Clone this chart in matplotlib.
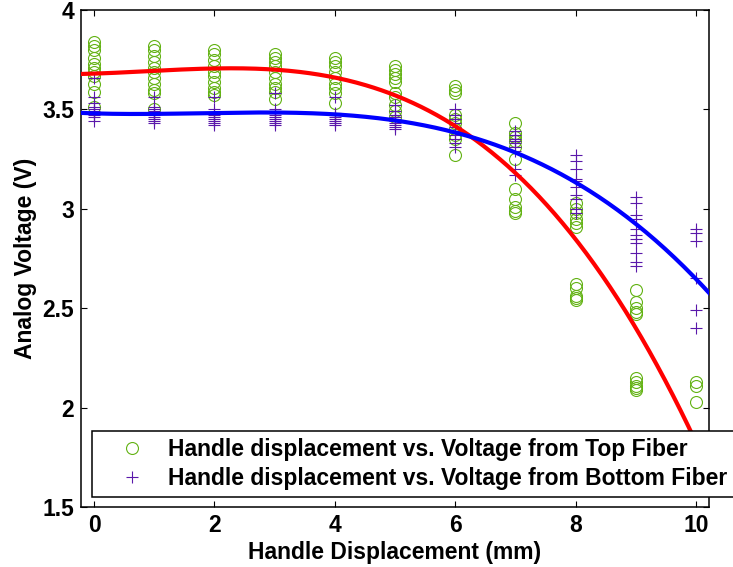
import numpy as np
import matplotlib
matplotlib.use("Agg")
import matplotlib.pyplot as plt

# Handle displacement positions (mm)
displacement = [0, 1, 2, 3, 4, 5, 6, 7, 8, 9, 10]

# Repeated readings from the top fiber (V), one list per displacement
top_fiber = [
    [3.84, 3.82, 3.80, 3.76, 3.73, 3.71, 3.69, 3.67, 3.63, 3.59, 3.51],
    [3.82, 3.80, 3.77, 3.74, 3.71, 3.69, 3.66, 3.63, 3.60, 3.58, 3.50],
    [3.80, 3.78, 3.75, 3.72, 3.69, 3.67, 3.64, 3.61, 3.59, 3.57],
    [3.78, 3.76, 3.74, 3.72, 3.69, 3.66, 3.63, 3.61, 3.59, 3.55],
    [3.76, 3.74, 3.72, 3.69, 3.66, 3.63, 3.61, 3.58, 3.53],
    [3.72, 3.70, 3.68, 3.66, 3.64, 3.58, 3.56, 3.52, 3.49, 3.46],
    [3.62, 3.60, 3.58, 3.47, 3.45, 3.43, 3.40, 3.37, 3.35, 3.27],
    [3.43, 3.38, 3.36, 3.34, 3.31, 3.25, 3.10, 3.05, 3.01, 2.99, 2.98],
    [3.03, 3.00, 2.98, 2.95, 2.93, 2.91, 2.62, 2.60, 2.56, 2.55, 2.54],
    [2.59, 2.53, 2.50, 2.48, 2.47, 2.15, 2.13, 2.11, 2.10, 2.09],
    [2.13, 2.11, 2.03],
]

# Repeated readings from the bottom fiber (V)
bottom_fiber = [
    [3.66, 3.56, 3.53, 3.51, 3.50, 3.49, 3.48, 3.47, 3.46, 3.44],
    [3.56, 3.51, 3.50, 3.49, 3.48, 3.47, 3.46, 3.45, 3.44, 3.43],
    [3.56, 3.50, 3.48, 3.47, 3.46, 3.45, 3.44, 3.43, 3.42],
    [3.58, 3.50, 3.48, 3.47, 3.46, 3.45, 3.44, 3.43, 3.42],
    [3.56, 3.48, 3.47, 3.46, 3.45, 3.44, 3.43, 3.42],
    [3.52, 3.49, 3.47, 3.46, 3.45, 3.44, 3.43, 3.42, 3.41, 3.40],
    [3.50, 3.47, 3.45, 3.43, 3.41, 3.39, 3.37, 3.35, 3.33, 3.31],
    [3.39, 3.37, 3.35, 3.34, 3.33, 3.31, 3.29, 3.20, 3.17],
    [3.27, 3.24, 3.20, 3.15, 3.14, 3.11, 3.07, 3.05, 3.00, 2.98],
    [3.06, 3.03, 2.97, 2.95, 2.90, 2.87, 2.85, 2.83, 2.78, 2.73, 2.71],
    [2.90, 2.88, 2.84, 2.65, 2.49, 2.40],
]

# Cubic trend-line coefficients, highest power first
top_fit_coef = [-0.002643, 0.006906, 0.009739, 3.68]
bottom_fit_coef = [-0.0015704, 0.00831, -0.00936, 3.48]

x_ticks = [0, 2, 4, 6, 8, 10]
y_ticks = [1.5, 2, 2.5, 3, 3.5, 4]
y_tick_labels = ["1.5", "2", "2.5", "3", "3.5", "4"]

legend_labels = [
    "Handle displacement vs. Voltage from Top Fiber",
    "Handle displacement vs. Voltage from Bottom Fiber",
]

GREEN = "#62b212"
PURPLE = "#5a18aa"

plt.rcParams["font.family"] = ["Liberation Sans", "DejaVu Sans"]
plt.rcParams["font.weight"] = "bold"

fig = plt.figure(figsize=(7.33, 5.67), dpi=100)
ax = fig.add_axes([81 / 733, 60 / 567, 628 / 733, 497 / 567])

xlim = (-0.216, 10.216)

top_x = np.concatenate([[d] * len(v) for d, v in zip(displacement, top_fiber)])
top_y = np.concatenate(top_fiber)
bot_x = np.concatenate([[d] * len(v) for d, v in zip(displacement, bottom_fiber)])
bot_y = np.concatenate(bottom_fiber)

h1, = ax.plot(top_x, top_y, linestyle="none", marker="o", ms=8.6,
              mfc="none", mec=GREEN, mew=0.8, label=legend_labels[0], zorder=2)
h2, = ax.plot(bot_x, bot_y, linestyle="none", marker="+", ms=9,
              mec=PURPLE, mew=0.8, label=legend_labels[1], zorder=2)

xs = np.linspace(xlim[0], xlim[1], 400)
ax.plot(xs, np.polyval(top_fit_coef, xs), color="#ff0000", lw=3, zorder=3)
ax.plot(xs, np.polyval(bottom_fit_coef, xs), color="#0000ff", lw=3, zorder=3)

ax.set_xlim(*xlim)
ax.set_ylim(1.5, 4)
ax.set_xticks(x_ticks)
ax.set_xticklabels([str(t) for t in x_ticks])
ax.set_yticks(y_ticks)
ax.set_yticklabels(y_tick_labels)

for s in ax.spines.values():
    s.set_linewidth(1.1)
ax.tick_params(direction="in", length=4.5, width=0.8, top=True, right=True,
               labelsize=16.5, pad=5)

ax.set_xlabel("Handle Displacement (mm)", fontsize=16.5, fontweight="bold", labelpad=3)
ax.set_ylabel("Analog Voltage (V)", fontsize=16.5, fontweight="bold", labelpad=4)

leg = fig.legend(handles=[h1, h2], labels=legend_labels,
                 loc="upper left", bbox_to_anchor=(92 / 733, 1 - 431 / 567),
                 fontsize=16.5, frameon=True, fancybox=False, framealpha=1,
                 edgecolor="black", borderpad=0.3, labelspacing=0.27,
                 handlelength=2.9, handletextpad=0.1, numpoints=1,
                 borderaxespad=0)
leg.get_frame().set_linewidth(1.1)
for t in leg.get_texts():
    t.set_fontweight("bold")

fig.savefig("out.png", dpi=100)
